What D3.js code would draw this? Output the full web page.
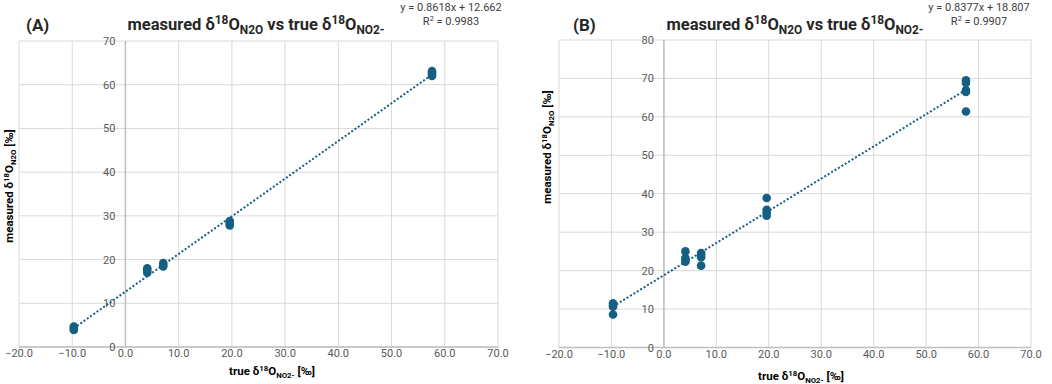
<!DOCTYPE html>
<html>
<head>
<meta charset="utf-8">
<script src="https://cdn.jsdelivr.net/npm/d3@7"></script>
<style>
  body { margin:0; background:#fff; }
  text { font-family: Roboto, "Liberation Sans", sans-serif; }
</style>
</head>
<body>
<div id="content"></div>
<script>
// ---- data
const xTicks = [-20, -10, 0, 10, 20, 30, 40, 50, 60, 70];

const trueA = [-9.7,-9.7,-9.7, 4.1,4.1,4.1, 7.1,7.1,7.1, 19.6,19.6,19.6, 57.6,57.6,57.6,57.6];
const measA = [3.9,4.3,4.7, 17.0,17.5,18.0, 18.4,18.8,19.2, 27.8,28.3,28.8, 62.0,62.4,62.8,63.1];
const fitA  = { slope: 0.8618, icpt: 12.662, eq: "y = 0.8618x + 12.662", r2: "0.9983" };

const trueB = [-9.7,-9.7,-9.7,-9.7, 4.1,4.1,4.1,4.1, 7.1,7.1,7.1,7.1, 19.6,19.6,19.6,19.6, 57.6,57.6,57.6,57.6,57.6];
const measB = [11.5,11.0,10.6,8.6, 25.0,23.3,22.8,22.3, 24.6,24.1,23.5,21.3, 38.9,35.8,35.1,34.3, 69.5,68.8,67.0,66.5,61.4];
const fitB  = { slope: 0.8377, icpt: 18.807, eq: "y = 0.8377x + 18.807", r2: "0.9907" };

const W = 1052, H = 384;
const col = "#156082";

const svg = d3.select("#content").append("svg")
    .attr("width", W).attr("height", H);

// rich text helper: parts = [[text, "sup"|"sub"|null], ...]
function richText(sel, parts, size, ratio){
    ratio = ratio || 0.68;
    let shift = 0;
    parts.forEach(([t, kind]) => {
        let target = kind==="sup" ? -size*0.38 : kind==="sub" ? size*0.25 : 0;
        sel.append("tspan")
            .attr("dy", target - shift)
            .attr("font-size", kind ? size*ratio : size)
            .text(t);
        shift = target;
    });
}

const titleParts = [["measured δ"],["18","sup"],["O"],["N2O","sub"],["  vs true δ"],["18","sup"],["O"],["NO2-","sub"]];
const xTitleParts = [["true δ"],["18","sup"],["O"],["NO2-","sub"],[" [‰]"]];
const yTitleParts = [["measured δ"],["18","sup"],["O"],["N2O","sub"],[" [‰]"]];

function panel(cfg){
    const x = d3.scaleLinear().domain([-20, 70]).range(cfg.xr);
    const y = d3.scaleLinear().domain([0, cfg.ymax]).range(cfg.yr);
    const g = svg.append("g");

    // grid
    g.selectAll(".vg").data(xTicks).enter().append("line")
        .attr("x1", d=>x(d)).attr("x2", d=>x(d))
        .attr("y1", y(0)).attr("y2", y(cfg.ymax))
        .attr("stroke", "#d9d9d9").attr("stroke-width", 1);
    g.selectAll(".hg").data(y.ticks(cfg.ymax/10)).enter().append("line")
        .attr("x1", x(-20)).attr("x2", x(70))
        .attr("y1", d=>y(d)).attr("y2", d=>y(d))
        .attr("stroke", "#d9d9d9").attr("stroke-width", 1);

    // axes through zero
    g.append("line").attr("x1", x(0)).attr("x2", x(0))
        .attr("y1", y(0)).attr("y2", y(cfg.ymax))
        .attr("stroke", "#bfbfbf").attr("stroke-width", 1.5);
    g.append("line").attr("x1", x(-20)).attr("x2", x(70))
        .attr("y1", y(0)).attr("y2", y(0))
        .attr("stroke", "#bfbfbf").attr("stroke-width", 1.5);

    // tick labels
    g.selectAll(".xl").data(xTicks).enter().append("text")
        .attr("x", d=>x(d)).attr("y", y(0) + 10)
        .attr("text-anchor", "middle").attr("font-size", 11).attr("fill", "#595959")
        .text(d3.format(".1f"));
    g.selectAll(".yl").data(y.ticks(cfg.ymax/10)).enter().append("text")
        .attr("x", x(0) - 10).attr("y", d=>y(d) + 4)
        .attr("text-anchor", "end").attr("font-size", 11).attr("fill", "#595959")
        .text(d=>d);

    // trendline
    const xs = d3.extent(cfg.xv);
    g.append("line")
        .attr("x1", x(xs[0])).attr("y1", y(cfg.fit.slope*xs[0] + cfg.fit.icpt))
        .attr("x2", x(xs[1])).attr("y2", y(cfg.fit.slope*xs[1] + cfg.fit.icpt))
        .attr("stroke", col).attr("stroke-width", 2)
        .attr("stroke-dasharray", "2,2");

    // points
    g.selectAll(".pt").data(cfg.xv.map((v,i)=>[v, cfg.yv[i]])).enter().append("circle")
        .attr("cx", d=>x(d[0])).attr("cy", d=>y(d[1])).attr("r", 4.3)
        .attr("fill", col);

    // titles
    g.append("text").attr("x", cfg.tagX).attr("y", 31)
        .attr("font-size", 17).attr("font-weight", "bold").attr("fill", "#262626")
        .text(cfg.tag);
    const t = g.append("text").attr("x", cfg.titleX).attr("y", 30)
        .attr("text-anchor", "middle").attr("font-weight", "bold").attr("fill", "#262626");
    richText(t, titleParts, 16.5, 0.72);

    const xt = g.append("text").attr("x", cfg.xtX).attr("y", cfg.xtY)
        .attr("text-anchor", "middle").attr("font-weight", "bold").attr("fill", "#000");
    richText(xt, xTitleParts, 11.5);

    const yt = g.append("text")
        .attr("transform", `translate(${cfg.ytX},${cfg.ytY}) rotate(-90)`)
        .attr("text-anchor", "middle").attr("font-weight", "bold").attr("fill", "#000");
    richText(yt, yTitleParts, 11.5);

    // equation
    g.append("text").attr("x", cfg.eqX).attr("y", 11)
        .attr("text-anchor", "middle").attr("font-size", 11).attr("fill", "#404040")
        .text(cfg.fit.eq);
    const r = g.append("text").attr("x", cfg.eqX).attr("y", 25)
        .attr("text-anchor", "middle").attr("fill", "#404040");
    richText(r, [["R"],["2","sup"],[" = " + cfg.fit.r2]], 11);
}

panel({ xr:[19, 498], yr:[347, 41], ymax:70, xv:trueA, yv:measA, fit:fitA,
        tag:"(A)", tagX:26, titleX:256, xtX:272, xtY:375, ytX:13, ytY:186, eqX:451 });
panel({ xr:[559, 1031], yr:[347.5, 40], ymax:80, xv:trueB, yv:measB, fit:fitB,
        tag:"(B)", tagX:573, titleX:795, xtX:801, xtY:380, ytX:551, ytY:147, eqX:979 });
</script>
</body>
</html>
